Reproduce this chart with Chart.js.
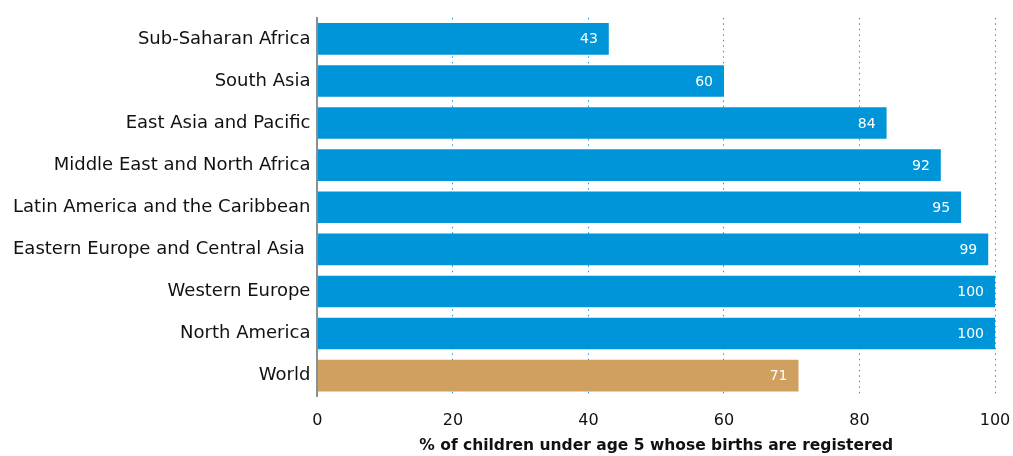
<!DOCTYPE html>
<html>
<head>
<meta charset="utf-8">
<script src="https://cdn.jsdelivr.net/npm/chart.js@4"></script>
<style>
  body { margin: 0; background: #fff; }
  canvas { display: block; }
</style>
</head>
<body>
<canvas id="chart" width="1013" height="456"></canvas>
<script>
const regions = [
  'Sub-Saharan Africa',
  'South Asia',
  'East Asia and Pacific',
  'Middle East and North Africa',
  'Latin America and the Caribbean',
  'Eastern Europe and Central Asia ',
  'Western Europe',
  'North America',
  'World'
];
const registered = [43, 60, 84, 92, 95, 99, 100, 100, 71];
const xTicks = [0, 20, 40, 60, 80, 100];

const BLUE = '#0094d8';
const GOLD = '#cfa05f';
const FONT = "'DejaVu Sans', sans-serif";

// white value labels at the end of each bar
const barLabels = {
  id: 'barLabels',
  afterDatasetsDraw(chart) {
    const ctx = chart.ctx;
    const meta = chart.getDatasetMeta(0);
    ctx.save();
    ctx.fillStyle = '#fff';
    ctx.font = `14px ${FONT}`;
    ctx.textAlign = 'right';
    ctx.textBaseline = 'middle';
    meta.data.forEach((bar, i) => {
      ctx.fillText(registered[i], bar.x - 11, bar.y + 1);
    });
    ctx.restore();
  }
};

new Chart(document.getElementById('chart'), {
  type: 'bar',
  data: {
    labels: regions,
    datasets: [{
      data: registered,
      backgroundColor: regions.map(r => r === 'World' ? GOLD : BLUE),
      barPercentage: 0.75,
      categoryPercentage: 1
    }]
  },
  options: {
    indexAxis: 'y',
    responsive: false,
    animation: false,
    layout: { padding: { top: 16, right: 0, left: 6, bottom: 1 } },
    plugins: {
      legend: { display: false },
      tooltip: { enabled: false }
    },
    scales: {
      x: {
        min: 0,
        max: 100,
        afterBuildTicks: axis => { axis.ticks = xTicks.map(v => ({ value: v })); },
        afterFit: axis => { axis.paddingRight = 18; axis.paddingLeft = 0; },
        grid: {
          drawTicks: false,
          color: c => c.tick && c.tick.value === 0 ? 'rgba(0,0,0,0)' : '#1597d6',
          lineWidth: 1
        },
        border: { display: false, dash: [1.5, 4] },
        ticks: { color: '#111', font: { family: FONT, size: 16 }, padding: 15 },
        title: {
          display: true,
          text: '% of children under age 5 whose births are registered',
          color: '#111',
          font: { family: FONT, size: 15.5, weight: 'bold' },
          padding: { top: -9.5, bottom: 0 }
        }
      },
      y: {
        grid: { display: false, drawTicks: false },
        border: { color: '#8a8f94', width: 2 },
        ticks: { color: '#111', font: { family: FONT, size: 18 }, padding: 7 }
      }
    }
  },
  plugins: [barLabels]
});
</script>
</body>
</html>
